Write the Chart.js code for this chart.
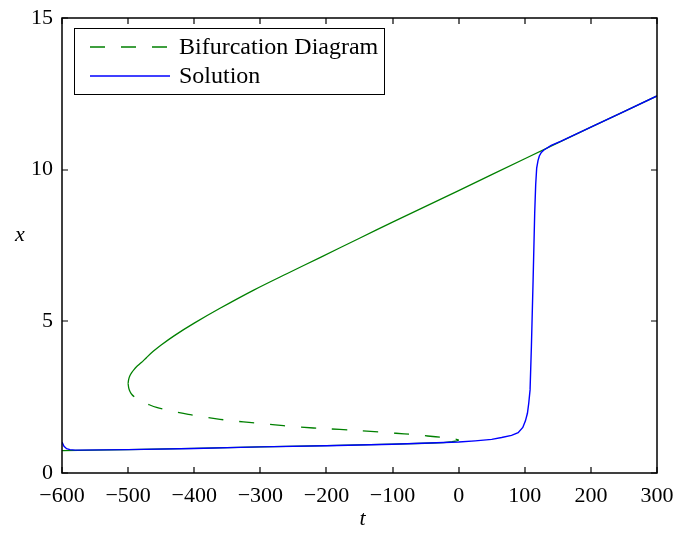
<!DOCTYPE html>
<html>
<head>
<meta charset="utf-8">
<script src="https://cdn.jsdelivr.net/npm/chart.js@4.4.0/dist/chart.umd.min.js"></script>
<style>
  html, body { margin: 0; padding: 0; background: #fff; }
  #wrap { width: 679px; height: 536px; position: relative; }
</style>
</head>
<body>
<div id="wrap"><canvas id="bifChart"></canvas></div>
<script>
// Data
// **************************************
const xTicks = [-600, -500, -400, -300, -200, -100, 0, 100, 200, 300];
const yTicks = [0, 5, 10, 15];

// upper (stable) branch of the bifurcation curve
const upperT = [-500, -499.2, -497.5, -494.6, -491.1, -487.3, -480, -472, -462, -450, -430, -400, -361, -310,
  -260, -209, -150, -100, 0, 100, 200, 300];
const upperX = [2.95, 3.08, 3.2, 3.31, 3.41, 3.5, 3.64, 3.81, 4.01, 4.22, 4.53, 4.94, 5.43, 6.03,
  6.57, 7.11, 7.74, 8.27, 9.31, 10.36, 11.4, 12.43];

// middle (unstable) branch, dashed
const middleT = [-500, -499, -497, -494, -490, -485, -479, -468, -457, -434, -409, -386, -361, -338, -313,
  -290, -265, -239, -200, -160, -118, -95, -70, -47, -23, -10, -3, 0];
const middleX = [2.95, 2.8, 2.68, 2.58, 2.5, 2.42, 2.36, 2.25, 2.16, 2.04, 1.93, 1.85, 1.77, 1.71, 1.66,
  1.61, 1.56, 1.51, 1.46, 1.41, 1.35, 1.31, 1.27, 1.22, 1.17, 1.14, 1.11, 1.085];

// lower (stable) branch
const lowerT = [-600, -500, -400, -300, -200, -100, -50, -23, -10, -3, 0];
const lowerX = [0.74, 0.77, 0.81, 0.86, 0.9, 0.95, 0.98, 1.0, 1.03, 1.06, 1.085];

// numerical solution
const solT = [-600, -597, -593, -588, -580, -500, -400, -300, -200, -100, 0, 25, 50, 65, 80, 90, 97, 101,
  104, 106, 108, 110, 112.6, 115, 116.5, 118, 120, 122, 125, 129, 140, 155, 200, 250, 300];
const solX = [1.02, 0.88, 0.8, 0.77, 0.755, 0.77, 0.81, 0.86, 0.9, 0.95, 1.02, 1.06, 1.11, 1.17, 1.24, 1.33,
  1.5, 1.72, 1.97, 2.3, 2.74, 4.16, 6.36, 8.56, 9.5, 10.05, 10.3, 10.45, 10.57, 10.65, 10.8, 10.94, 11.4,
  11.91, 12.43];

const pts = (ts, xs) => ts.map((t, i) => ({ x: t, y: xs[i] }));

const green = '#008000';
const blue = '#0000ff';
const serif = "'Liberation Serif', 'Times New Roman', serif";
const minus = (v) => (v < 0 ? '\u2212' + (-v) : String(v));

// Box, inward ticks, axis letters and legend
// **************************************
const frame = {
  id: 'frame',
  afterDraw(chart) {
    const { ctx, chartArea: a, scales } = chart;
    ctx.save();
    ctx.strokeStyle = '#000';
    ctx.lineWidth = 1.5;
    ctx.strokeRect(a.left, a.top, a.right - a.left, a.bottom - a.top);

    ctx.lineWidth = 1.2;
    ctx.beginPath();
    xTicks.forEach((v) => {
      const px = Math.round(scales.x.getPixelForValue(v));
      ctx.moveTo(px, a.bottom); ctx.lineTo(px, a.bottom - 6);
      ctx.moveTo(px, a.top); ctx.lineTo(px, a.top + 6);
    });
    yTicks.forEach((v) => {
      const py = Math.round(scales.y.getPixelForValue(v));
      ctx.moveTo(a.left, py); ctx.lineTo(a.left + 6, py);
      ctx.moveTo(a.right, py); ctx.lineTo(a.right - 6, py);
    });
    ctx.stroke();

    // axis letters
    ctx.fillStyle = '#000';
    ctx.font = 'italic 22px ' + serif;
    ctx.textAlign = 'center';
    ctx.textBaseline = 'middle';
    ctx.fillText('x', 20, (a.top + a.bottom) / 2 - 10);
    ctx.fillText('t', (a.left + a.right) / 2 + 3, 519);

    // legend
    const lx = a.left + 12, ly = a.top + 10, lw = 310, lh = 66;
    ctx.fillStyle = '#fff';
    ctx.fillRect(lx, ly, lw, lh);
    ctx.lineWidth = 1;
    ctx.strokeStyle = '#000';
    ctx.strokeRect(lx + 0.5, ly + 0.5, lw, lh);
    const items = chart.data.datasets.filter((d) => d.label);
    ctx.font = '24px ' + serif;
    ctx.textAlign = 'left';
    items.forEach((d, i) => {
      const y = ly + 19 + i * 29;
      ctx.strokeStyle = d.borderColor;
      ctx.lineWidth = 1.3;
      ctx.setLineDash(d.borderDash || []);
      ctx.beginPath();
      ctx.moveTo(lx + 16, y); ctx.lineTo(lx + 96, y);
      ctx.stroke();
      ctx.setLineDash([]);
      ctx.fillStyle = '#000';
      ctx.fillText(d.label, lx + 105, y + 1);
    });
    ctx.restore();
  },
};

const data = {
  datasets: [
    { label: 'Bifurcation Diagram', data: pts(middleT, middleX), borderColor: green, borderWidth: 1.3,
      borderDash: [15, 16], tension: 0.3, order: 1 },
    { label: 'Solution', data: pts(solT, solX), borderColor: blue, borderWidth: 1.4, order: 0 },
    { label: '', data: pts(upperT, upperX), borderColor: green, borderWidth: 1.3, tension: 0.3, order: 1 },
    { label: '', data: pts(lowerT, lowerX), borderColor: green, borderWidth: 1.3, order: 1 },
  ],
};

const config = {
  type: 'scatter',
  data: data,
  options: {
    responsive: true,
    maintainAspectRatio: false,
    animation: false,
    devicePixelRatio: 1,
    layout: { padding: { top: 18, right: 22, left: 0, bottom: 0 } },
    datasets: { scatter: { showLine: true, pointRadius: 0, fill: false } },
    plugins: {
      legend: { display: false },
      tooltip: { enabled: false },
    },
    scales: {
      x: {
        type: 'linear',
        min: -600,
        max: 300,
        afterFit: (s) => { s.height = 63; s.paddingLeft = 0; s.paddingRight = 0; },
        afterBuildTicks: (s) => { s.ticks = xTicks.map((v) => ({ value: v })); },
        grid: { display: false, drawTicks: false },
        border: { display: false },
        ticks: {
          color: '#000',
          padding: 10,
          maxRotation: 0,
          autoSkip: false,
          font: { family: serif, size: 22 },
          callback: (v) => minus(v),
        },
      },
      y: {
        type: 'linear',
        min: 0,
        max: 15,
        afterFit: (s) => { s.width = 62; s.paddingTop = 0; s.paddingBottom = 0; },
        afterBuildTicks: (s) => { s.ticks = yTicks.map((v) => ({ value: v })); },
        grid: { display: false, drawTicks: false },
        border: { display: false },
        ticks: {
          color: '#000',
          padding: 9,
          autoSkip: false,
          font: { family: serif, size: 22 },
          callback: (v) => minus(v),
        },
      },
    },
  },
  plugins: [frame],
};

new Chart(document.getElementById('bifChart'), config);
</script>
</body>
</html>
